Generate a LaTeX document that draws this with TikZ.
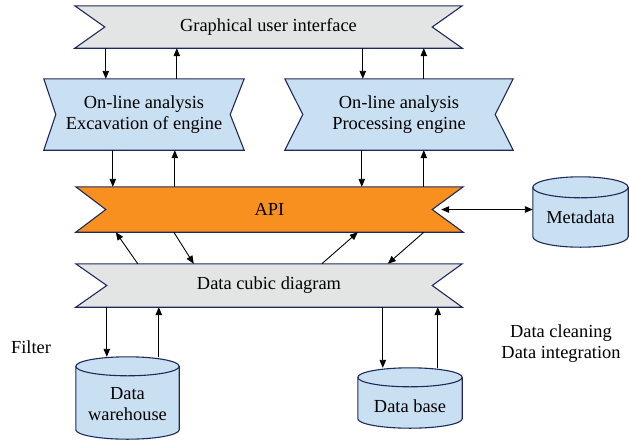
\documentclass[tikz,border=0pt]{standalone}
\usepackage{fontspec}
\setmainfont{Liberation Serif}
\usetikzlibrary{arrows.meta,backgrounds,calc}

\definecolor{edge}{HTML}{1F2A5C}
\definecolor{greyfill}{HTML}{E3E5E4}
\definecolor{bluefill}{HTML}{C9DFF2}
\definecolor{apifill}{HTML}{F7901E}

\tikzset{
  txt/.style={font=\fontsize{18.4}{21}\selectfont, align=center},
  box/.style={txt, rectangle, inner sep=0pt},
  outline/.style={draw=edge, line width=1.1pt, line join=miter},
  link/.style={-{Triangle[length=8pt,width=6.5pt]}, line width=0.9pt},
  dlink/.style={{Triangle[length=8pt,width=6.5pt]}-{Triangle[length=8pt,width=6.5pt]}, line width=0.9pt},
}

% banner with inward notches on both ends: node, fill, left depth, right depth
\newcommand\ribbon[4]{%
  \path[outline,fill=#2] (#1.north west) -- (#1.north east) -- ([xshift=-#4]#1.east)
    -- (#1.south east) -- (#1.south west) -- ([xshift=#3]#1.west) -- cycle;}

% upright cylinder filling a node: node, rim half-height (pt)
\newcommand\drum[2]{%
  \path[outline,fill=bluefill] let \p1=($(#1.east)-(#1.west)$) in
    ([yshift=-#2pt]#1.north west) -- ([yshift=#2pt]#1.south west)
    arc[start angle=180,end angle=360,x radius=0.5*\x1,y radius=#2pt]
    -- ([yshift=-#2pt]#1.north east)
    arc[start angle=0,end angle=180,x radius=0.5*\x1,y radius=#2pt] -- cycle;
  \draw[outline] let \p1=($(#1.east)-(#1.west)$) in
    ([yshift=-#2pt]#1.north west)
    arc[start angle=180,end angle=360,x radius=0.5*\x1,y radius=#2pt];}

\begin{document}
\begin{tikzpicture}[x=1pt,y=1pt]
\useasboundingbox (0,0) rectangle (629,-440);

% banners
\node[box, minimum width=387, minimum height=42] (gui) at (268.5,-27) {Graphical user interface};
\node[box, minimum width=200, minimum height=71] (olapL) at (144,-114.5) {On-line analysis\\Excavation of engine};
\node[box, minimum width=228, minimum height=71] (olapR) at (399,-114.5) {On-line analysis\\Processing engine};
\node[box, minimum width=387, minimum height=45] (api) at (269.5,-209.5) {API};
\node[box, minimum width=386, minimum height=43] (cube) at (269,-285.5) {Data cubic diagram};

% cylinders
\node[box, minimum width=95, minimum height=70] (meta) at (580.5,-212) {};
\node[box, minimum width=103, minimum height=82] (dw) at (127.5,-398) {};
\node[box, minimum width=104, minimum height=60] (db) at (410,-398) {};

\begin{scope}[on background layer]
  \ribbon{gui}{greyfill}{30}{30}
  \ribbon{olapL}{bluefill}{12}{14}
  \ribbon{olapR}{bluefill}{18}{18}
  \ribbon{api}{apifill}{30}{31}
  \ribbon{cube}{greyfill}{31}{30}
  \drum{meta}{10.5}
  \drum{dw}{9.5}
  \drum{db}{9.5}
\end{scope}

\node[txt] (metatext) at ([yshift=-5]meta.center) {Metadata};
\node[txt] (dwtext) at ([yshift=-6.5]dw.center) {Data\\warehouse};
\node[txt] (dbtext) at ([yshift=-8]db.center) {Data base};

% side notes
\node[txt] (filter) at (31,-347) {Filter};
\node[txt] (clean) at (561,-344) {Data cleaning\\Data integration};

% interface <-> engines
\draw[link] ([xshift=31]gui.south west) -- ([xshift=31]gui.south west |- olapL.north);
\draw[link] ([xshift=102]gui.south west |- olapL.north) -- ([xshift=102]gui.south west);
\draw[link] ([xshift=288]gui.south west) -- ([xshift=288]gui.south west |- olapR.north);
\draw[link] ([xshift=349]gui.south west |- olapR.north) -- ([xshift=349]gui.south west);

% engines <-> API
\draw[link] ([xshift=69]olapL.south west) -- ([xshift=69]olapL.south west |- api.north);
\draw[link] ([xshift=131]olapL.south west |- api.north) -- ([xshift=131]olapL.south west);
\draw[link] ([xshift=77]olapR.south west) -- ([xshift=77]olapR.south west |- api.north);
\draw[link] ([xshift=139]olapR.south west |- api.north) -- ([xshift=139]olapR.south west);

% API <-> data cube
\draw[link] ([xshift=62]cube.north west) -- ([xshift=40]api.south west);
\draw[link] ([xshift=98]api.south west) -- ([xshift=118]cube.north west);
\draw[link] ([xshift=246]cube.north west) -- ([xshift=282]api.south west);
\draw[link] ([xshift=348]api.south west) -- ([xshift=312]cube.north west);

% API <-> metadata
\draw[dlink] ([xshift=-22]api.east) -- (api.east -| meta.west);

% data cube <-> stores
\draw[link] ([xshift=31]cube.south west) -- ([xshift=31]cube.south west |- dw.north);
\draw[link] ([xshift=83]cube.south west |- dw.north) -- ([xshift=83]cube.south west);
\draw[link] ([xshift=307]cube.south west) -- ([xshift=307]cube.south west |- db.north);
\draw[link] ([xshift=362]cube.south west |- db.north) -- ([xshift=362]cube.south west);
\end{tikzpicture}
\end{document}
